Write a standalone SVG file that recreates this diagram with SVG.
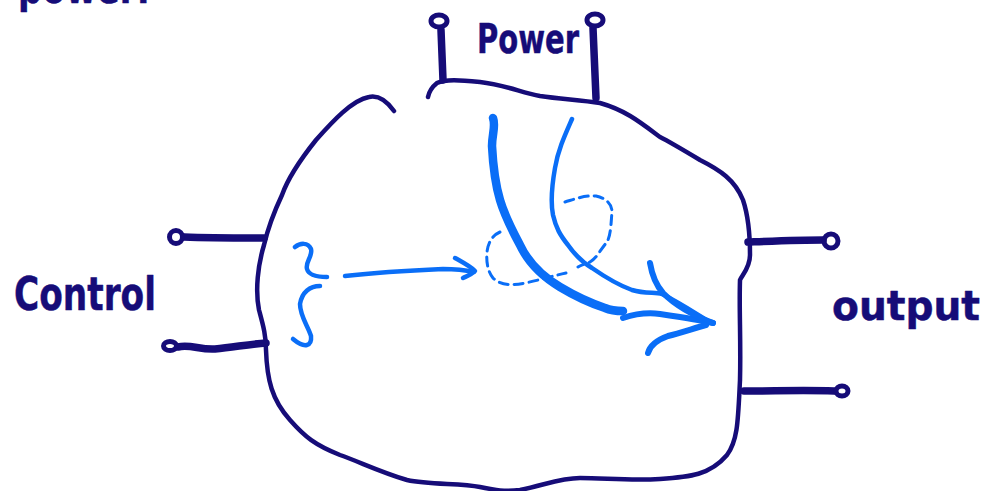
<svg xmlns="http://www.w3.org/2000/svg" width="993" height="491" viewBox="0 0 993 491">
  <style>
    .ink { fill: none; stroke: #160c78; stroke-linecap: round; stroke-linejoin: round; }
    .body { stroke-width: 4.5; }
    .lead { stroke-width: 7.5; }
    .ring { stroke-width: 5; }
    .flow { fill: none; stroke: #0a6ef7; stroke-linecap: round; stroke-linejoin: round; }
    .dash { stroke-width: 3; stroke-dasharray: 9 6; }
    .label { font-family: "DejaVu Sans", "Liberation Sans", sans-serif; font-weight: bold; fill: #160c78; stroke: #160c78; stroke-width: 0.5; stroke-linejoin: round; }
  </style>

  <!-- heading, running off the top edge -->
  <text class="label" x="18" y="3" font-size="44" textLength="132" lengthAdjust="spacingAndGlyphs">power:</text>

  <!-- the block -->
  <g id="block">
    <path class="ink body" d="M394,111 C386,100 378,95 369,97 C352,100 332,122 316,140 C300,160 288,178 282,195 C274,212 268,228 264,245 C258,265 255,290 259,310 C263,325 266,335 266,350 C267,380 272,400 290,420 C305,437 315,445 340,455 C360,462 380,472 407,480 C430,485 460,483 480,487 C495,490 505,492 520,490 C545,485 560,478 580,478 C605,478 630,481 660,479 C690,477 710,475 727,455 C738,440 738,420 740,380 C741,340 739,310 740,280 C742,275 750,268 750,255 C750,230 748,215 743,200 C735,180 720,170 700,160 C680,148 670,142 660,137 C640,122 625,110 600,103 C580,100 560,99 540,96 C520,92 505,85 480,82 C460,80 445,79 437,83 C432,87 429,92 428,97"/>
  </g>

  <!-- power terminals -->
  <g id="power">
    <path class="ink lead" d="M443,80 L441,30"/>
    <ellipse class="ink ring" cx="439" cy="21" rx="8" ry="6"/>
    <path class="ink lead" d="M596,98 L593,28"/>
    <ellipse class="ink ring" cx="595" cy="20" rx="8" ry="6"/>
    <text class="label" x="477" y="53" font-size="40" textLength="102" lengthAdjust="spacingAndGlyphs">Power</text>
  </g>

  <!-- control terminals -->
  <g id="control">
    <path class="ink lead" d="M184,237 C210,238 240,238 264,238"/>
    <circle class="ink ring" cx="176" cy="237" r="6.5"/>
    <path class="ink lead" d="M178,347 C190,344 200,350 215,349 C235,347 250,344 266,343"/>
    <ellipse class="ink ring" cx="170" cy="346" rx="6.5" ry="4.5"/>
    <text class="label" x="14" y="310" font-size="46" textLength="142" lengthAdjust="spacingAndGlyphs">Control</text>
  </g>

  <!-- output terminals -->
  <g id="output">
    <path class="ink lead" d="M748,242 C775,241 800,240 823,240"/>
    <ellipse class="ink ring" cx="831" cy="241" rx="7" ry="7"/>
    <path class="ink lead" d="M744,391 C775,391 805,390 834,391"/>
    <ellipse class="ink ring" cx="842" cy="391" rx="6" ry="5"/>
    <text class="label" x="832" y="320" font-size="40" textLength="148" lengthAdjust="spacingAndGlyphs">output</text>
  </g>

  <!-- signal and energy flow inside the block -->
  <g id="connectors">
    <!-- brace gathering the control inputs -->
    <path class="flow" stroke-width="4.5" d="M295,247 C300,243 308,242 311,249 C313,256 305,262 307,269 C309,276 318,277 327,277"/>
    <path class="flow" stroke-width="4.5" d="M320,286 C310,286 302,292 300,304 C300,316 308,326 311,336 C312,346 305,349 293,339"/>
    <!-- control arrow -->
    <path class="flow" stroke-width="4.5" d="M345,276 C380,272 420,270 443,269 C455,269 465,270 474,272"/>
    <path class="flow" stroke-width="4.5" d="M455,258 C462,262 470,266 475,271 C471,275 467,276 463,278"/>
    <!-- dashed loops -->
    <path class="flow dash" d="M500,232 C493,235 488,242 487,252 C486,262 488,272 493,278 C500,285 512,286 525,283 C540,280 552,276 566,273"/>
    <path class="flow dash" d="M565,202 C575,199 585,195 596,196 C606,198 612,204 612,212 C611,222 611,235 607,242 C600,250 597,258 590,262 C585,264 581,265 578,267"/>
    <!-- power arrow (heavy) -->
    <path class="flow" stroke-width="8.5" d="M493,118 C496,126 492,134 492,146 C493,165 495,183 500,200 C505,217 512,230 520,245 C528,262 540,275 560,287 C575,296 590,303 605,308 C612,311 618,311 623,311"/>
    <path class="flow" stroke-width="6" d="M623,318 C635,314 645,312 660,314 C680,317 700,320 713,323"/>
    <path class="flow" stroke-width="6" d="M650,263 C652,275 656,285 663,293 C675,305 692,315 713,323"/>
    <path class="flow" stroke-width="6" d="M648,353 C650,345 657,340 668,336 C680,333 695,328 706,325"/>
    <!-- power arrow (light) -->
    <path class="flow" stroke-width="4.5" d="M572,119 C565,135 558,150 555,168 C552,185 550,200 553,215 C556,228 560,235 568,245 C575,255 582,262 592,268 C605,277 618,285 632,290 C645,294 655,292 662,294 C680,303 695,313 710,322"/>
  </g>
</svg>
